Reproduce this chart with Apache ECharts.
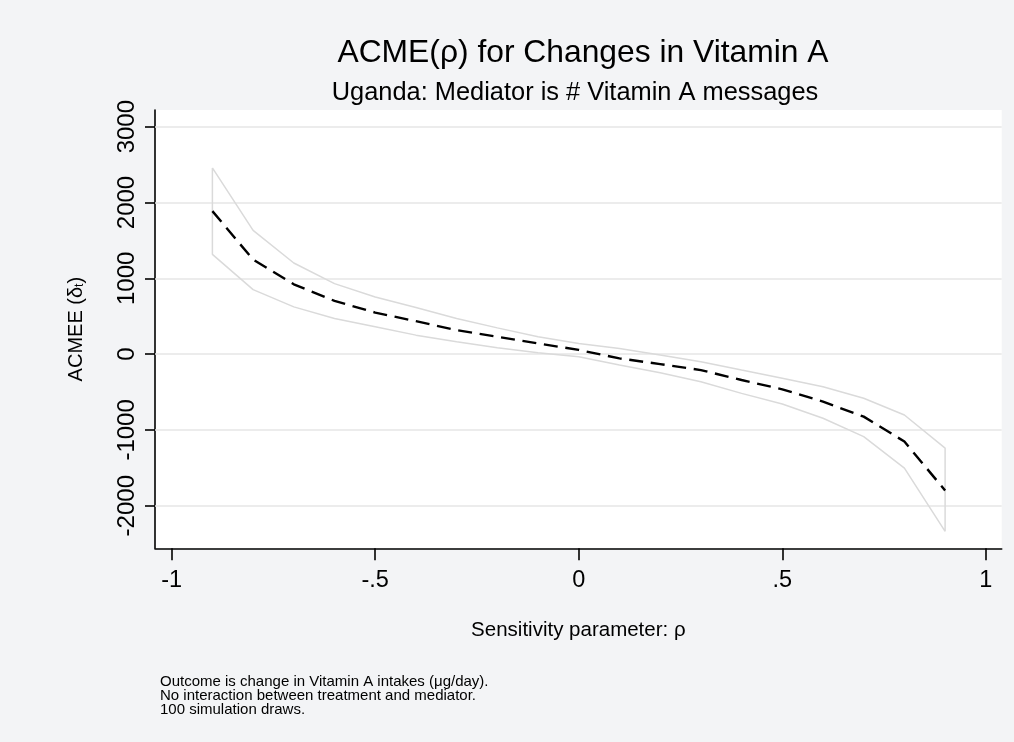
<!DOCTYPE html>
<html>
<head>
<meta charset="utf-8">
<script src="https://cdn.jsdelivr.net/npm/echarts@6/dist/echarts.min.js"></script>
<style>
html,body{margin:0;padding:0;background:#f3f4f6;}
#chart{width:1014px;height:742px;}
</style>
</head>
<body>
<div id="chart"></div>
<script>
// Sensitivity parameter rho
const rho = [-0.9,-0.8,-0.7,-0.6,-0.5,-0.4,-0.3,-0.2,-0.1,0,0.1,0.2,0.3,0.4,0.5,0.6,0.7,0.8,0.9];
// ACME point estimates
const acme = [1886,1246,921,702,548,434,316,228,140,55,-57,-132,-211,-342,-465,-627,-825,-1154,-1799];
// Upper and lower confidence bounds
const upper = [2456,1632,1202,930,754,614,469,346,228,140,75,-13,-101,-211,-320,-430,-583,-803,-1241];
const lower = [1316,851,623,469,360,250,162,83,18,-35,-145,-246,-364,-518,-658,-847,-1088,-1504,-2338];
// Axis ticks and labels
const yTicks = [-2000,-1000,0,1000,2000,3000];
const xTicks = [-1,-0.5,0,0.5,1];
const xTickLabels = ['-1','-.5','0','.5','1'];
const footnotes = [
  'Outcome is change in Vitamin A intakes (\u03bcg/day).',
  'No interaction between treatment and mediator.',
  '100 simulation draws.'
];

const FONT = 'Liberation Sans, Arial, sans-serif';

// CI outline: upper from left to right, lower from right to left, closed
const ciPath = [];
rho.forEach((r,i)=>ciPath.push([r, upper[i]]));
for (let i = rho.length-1; i >= 0; i--) ciPath.push([rho[i], lower[i]]);
ciPath.push([rho[0], upper[0]]);

const meanPath = rho.map((r,i)=>[r, acme[i]]);

const chart = echarts.init(document.getElementById('chart'), null, {renderer:'canvas'});
chart.setOption({
  backgroundColor: '#f3f4f6',
  animation: false,
  title: [
    {text: 'ACME(\u03c1) for Changes in Vitamin A', left: 578, top: 32, textAlign: 'center',
     textStyle: {fontFamily: FONT, fontSize: 31.8, fontWeight: 'normal', color: '#000'}},
    {text: 'Uganda: Mediator is # Vitamin A messages', left: 570, top: 75, textAlign: 'center',
     textStyle: {fontFamily: FONT, fontSize: 25.4, fontWeight: 'normal', color: '#000'}}
  ],
  grid: {left: 155, right: 12.3, top: 110, bottom: 193.7, show: true, backgroundColor: '#ffffff', borderWidth: 0},
  xAxis: {
    type: 'value', min: -1.041, max: 1.039,
    name: 'Sensitivity parameter: \u03c1', nameLocation: 'middle', nameGap: 72,
    nameTextStyle: {fontFamily: FONT, fontSize: 20.5, color: '#000'},
    axisLine: {show: true, onZero: false, lineStyle: {color: '#000', width: 1.6}},
    axisTick: {show: true, length: 12, customValues: xTicks, lineStyle: {color: '#000', width: 1.6}},
    axisLabel: {show: true, margin: 20, customValues: xTicks, fontFamily: FONT, fontSize: 23.5, color: '#000',
      formatter: v => { const i = xTicks.findIndex(t => Math.abs(t - v) < 1e-9); return i >= 0 ? xTickLabels[i] : ''; }},
    splitLine: {show: false}
  },
  yAxis: {
    type: 'value', min: -2562, max: 3220,
    name: 'ACMEE ({d|\u03b4}{s|t})', nameLocation: 'middle', nameGap: 69,
    nameTextStyle: {fontFamily: FONT, fontSize: 20, color: '#000',
      rich: {d: {fontFamily: FONT, fontSize: 20, color: '#000'}, s: {fontFamily: FONT, fontSize: 12, color: '#000', padding: [8,0,0,0]}}},
    axisLine: {show: true, onZero: false, lineStyle: {color: '#000', width: 1.6}},
    axisTick: {show: true, length: 10, customValues: yTicks, lineStyle: {color: '#000', width: 1.6}},
    axisLabel: {show: true, rotate: 90, margin: 16, customValues: yTicks, fontFamily: FONT, fontSize: 24, color: '#000',
      formatter: v => String(v)},
    splitLine: {show: false}
  },
  series: [
    {
      type: 'line', data: [], silent: true, z: 1,
      markLine: {
        silent: true, symbol: 'none', z: 1, animation: false,
        label: {show: false},
        lineStyle: {type: 'solid', color: '#e6e6e6', width: 1.5},
        data: yTicks.map(v => ({yAxis: v}))
      }
    },
    {
      type: 'line', data: ciPath, z: 2, showSymbol: false, symbol: 'none', silent: true,
      lineStyle: {color: '#dadada', width: 1.5}
    },
    {
      type: 'line', data: meanPath, z: 3, showSymbol: false, symbol: 'none', silent: true,
      lineStyle: {color: '#000', width: 2.4, type: [14, 7.7]}
    }
  ],
  graphic: [
    {type: 'text', left: 160, top: 674, silent: true,
     style: {text: footnotes.join('\n'), fontFamily: FONT, fontSize: 15, lineHeight: 14, fill: '#000'}}
  ]
});
</script>
</body>
</html>
